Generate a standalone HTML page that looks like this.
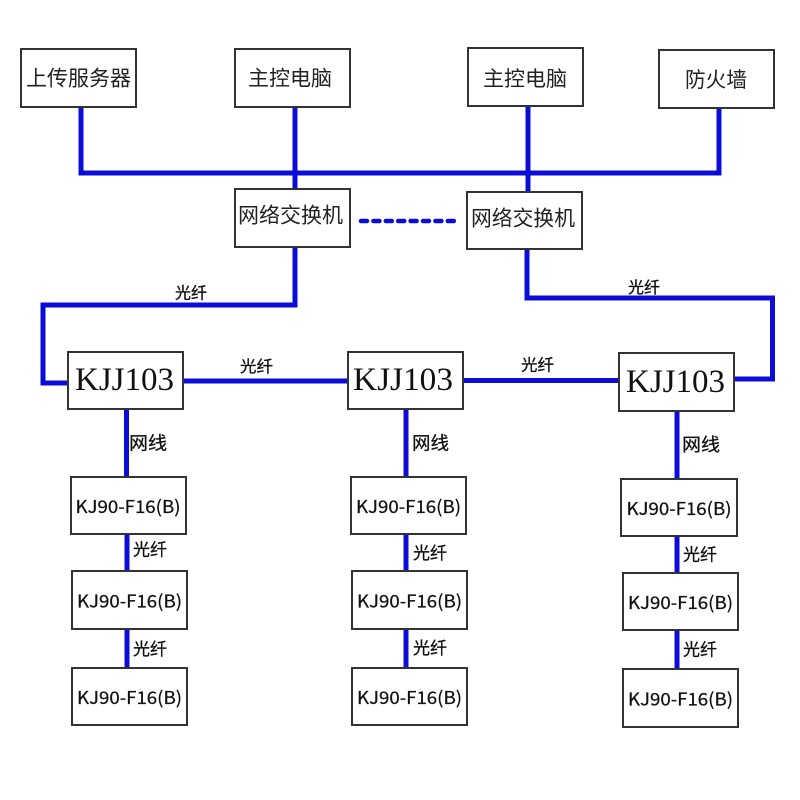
<!DOCTYPE html>
<html><head><meta charset="utf-8"><style>
html,body{margin:0;padding:0;background:#fff;}
svg{display:block;}
.b{fill:#fff;stroke:#333;stroke-width:2;}
.l{stroke:#0c0cd8;stroke-width:5;fill:none;}
.cj{font-family:"Liberation Sans","Noto Sans CJK SC",sans-serif;fill:#222;}
.k{font-family:"Liberation Serif",serif;fill:#111;}
.kj{font-family:"Noto Sans CJK SC","Liberation Sans",sans-serif;fill:#111;stroke:#111;stroke-width:0.25;}
.lb{font-family:"Liberation Sans","Noto Sans CJK SC",sans-serif;fill:#111;stroke:#111;stroke-width:0.3;}
</style></head><body>
<svg width="800" height="800" viewBox="0 0 800 800" xmlns="http://www.w3.org/2000/svg">
<rect width="800" height="800" fill="#fff"/>
<!-- lines -->
<path class="l" d="M81 107 V173 M78.5 173 H721.5 M719 108 V173 M295 107 V189 M528 106 V192"/>
<path class="l" d="M295 247 V305 H43 V383 H68"/>
<path class="l" d="M527 249 V298 H772.5 V379 H734"/>
<path class="l" d="M183 381 H348 M463 380.5 H619"/>
<path class="l" d="M126.5 409 V477 M127 534 V571 M127 629 V668"/>
<path class="l" d="M406 409 V477 M406 534 V571 M406 629 V668"/>
<path class="l" d="M677 410 V479 M677 536 V573 M677 630 V669"/>
<line x1="361" y1="221" x2="457" y2="221" stroke="#0c0cd8" stroke-width="4.5" stroke-dasharray="6 6.4" stroke-linecap="round"/>
<!-- boxes -->
<rect class="b" x="21" y="49" width="115" height="58"/>
<rect class="b" x="235" y="49" width="115" height="58"/>
<rect class="b" x="468" y="48" width="115" height="58"/>
<rect class="b" x="659" y="50" width="115" height="58"/>
<rect class="b" x="235" y="189" width="115" height="58"/>
<rect class="b" x="467" y="192" width="115" height="57"/>
<rect class="b" x="68" y="352" width="115" height="57"/>
<rect class="b" x="348" y="352" width="115" height="57"/>
<rect class="b" x="619" y="353" width="115" height="58"/>
<rect class="b" x="71" y="477" width="115" height="57"/>
<rect class="b" x="72" y="571" width="115" height="58"/>
<rect class="b" x="72" y="668" width="115" height="57"/>
<rect class="b" x="351" y="477" width="115" height="57"/>
<rect class="b" x="352" y="571" width="115" height="58"/>
<rect class="b" x="352" y="668" width="115" height="57"/>
<rect class="b" x="621" y="479" width="116" height="57"/>
<rect class="b" x="623" y="573" width="115" height="57"/>
<rect class="b" x="623" y="669" width="115" height="58"/>
<!-- top texts -->
<g class="cj" font-size="21" text-anchor="middle">
<text x="78.5" y="85.5" textLength="105" lengthAdjust="spacingAndGlyphs">上传服务器</text>
<text x="290" y="85.5" textLength="84" lengthAdjust="spacingAndGlyphs">主控电脑</text>
<text x="525" y="86" textLength="84" lengthAdjust="spacingAndGlyphs">主控电脑</text>
<text x="716" y="87" textLength="62" lengthAdjust="spacingAndGlyphs">防火墙</text>
<text x="290.5" y="222.5" textLength="105" lengthAdjust="spacingAndGlyphs">网络交换机</text>
<text x="523" y="225.5" textLength="104" lengthAdjust="spacingAndGlyphs">网络交换机</text>
</g>
<!-- KJJ103 -->
<g class="k" font-size="33" text-anchor="middle">
<text x="124.5" y="390" textLength="99" lengthAdjust="spacingAndGlyphs">KJJ103</text>
<text x="403" y="390" textLength="100" lengthAdjust="spacingAndGlyphs">KJJ103</text>
<text x="675.5" y="392" textLength="99" lengthAdjust="spacingAndGlyphs">KJJ103</text>
</g>
<!-- KJ90 -->
<g class="kj" font-size="17.5" text-anchor="middle">
<text x="128" y="513" textLength="105" lengthAdjust="spacingAndGlyphs">KJ90-F16(B)</text>
<text x="129.5" y="607.5" textLength="105" lengthAdjust="spacingAndGlyphs">KJ90-F16(B)</text>
<text x="129.5" y="704" textLength="105" lengthAdjust="spacingAndGlyphs">KJ90-F16(B)</text>
<text x="408.5" y="513" textLength="105" lengthAdjust="spacingAndGlyphs">KJ90-F16(B)</text>
<text x="409.5" y="607.5" textLength="105" lengthAdjust="spacingAndGlyphs">KJ90-F16(B)</text>
<text x="409.5" y="704" textLength="105" lengthAdjust="spacingAndGlyphs">KJ90-F16(B)</text>
<text x="679" y="515" textLength="105" lengthAdjust="spacingAndGlyphs">KJ90-F16(B)</text>
<text x="680.5" y="609" textLength="105" lengthAdjust="spacingAndGlyphs">KJ90-F16(B)</text>
<text x="680.5" y="705.5" textLength="105" lengthAdjust="spacingAndGlyphs">KJ90-F16(B)</text>
</g>
<!-- labels -->
<g class="lb" text-anchor="middle">
<text x="191" y="298.3" font-size="16" textLength="32" lengthAdjust="spacingAndGlyphs">光纤</text>
<text x="256.5" y="371.8" font-size="16" textLength="33" lengthAdjust="spacingAndGlyphs">光纤</text>
<text x="644" y="292.8" font-size="16" textLength="32" lengthAdjust="spacingAndGlyphs">光纤</text>
<text x="537.5" y="370.3" font-size="16" textLength="33" lengthAdjust="spacingAndGlyphs">光纤</text>
<text x="148" y="449.5" font-size="18" textLength="38" lengthAdjust="spacingAndGlyphs">网线</text>
<text x="430.5" y="449.5" font-size="18" textLength="37" lengthAdjust="spacingAndGlyphs">网线</text>
<text x="701" y="451" font-size="18" textLength="38" lengthAdjust="spacingAndGlyphs">网线</text>
<text x="150" y="555.6" font-size="17" textLength="34" lengthAdjust="spacingAndGlyphs">光纤</text>
<text x="150" y="655" font-size="17" textLength="34" lengthAdjust="spacingAndGlyphs">光纤</text>
<text x="430" y="559" font-size="17" textLength="34" lengthAdjust="spacingAndGlyphs">光纤</text>
<text x="430" y="654" font-size="17" textLength="34" lengthAdjust="spacingAndGlyphs">光纤</text>
<text x="700" y="560.6" font-size="17" textLength="34" lengthAdjust="spacingAndGlyphs">光纤</text>
<text x="700" y="655.6" font-size="17" textLength="34" lengthAdjust="spacingAndGlyphs">光纤</text>
</g>
</svg>
</body></html>
